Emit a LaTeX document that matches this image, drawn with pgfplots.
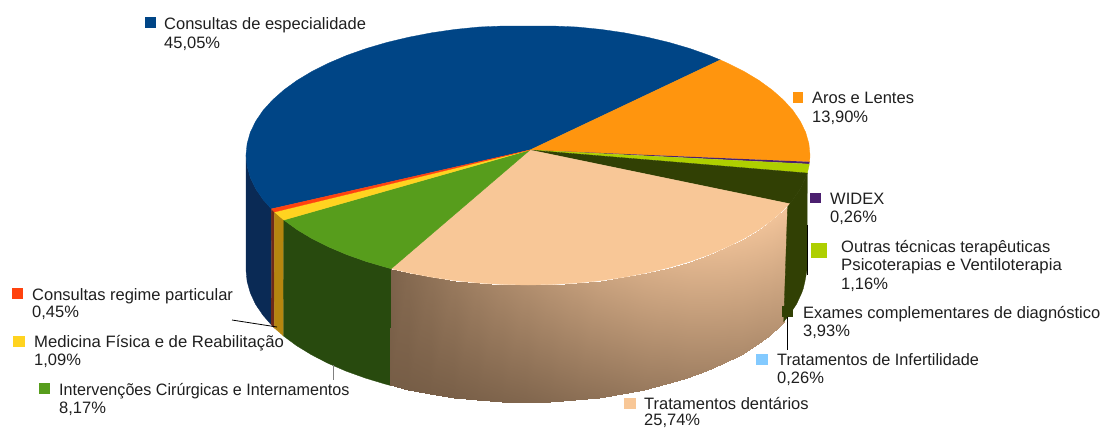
\documentclass[border=0pt]{standalone}
\usepackage{pgfplots}
\usepackage{fontspec}
\setmainfont{Liberation Sans}
\pgfplotsset{compat=1.18}
\definecolor{cblue}{HTML}{004586}
\definecolor{cred}{HTML}{FF420E}
\definecolor{cyellow}{HTML}{FFD320}
\definecolor{cgreen}{HTML}{579D1C}
\definecolor{ctan}{HTML}{F8C797}
\definecolor{cinf}{HTML}{83CAFF}
\definecolor{cexam}{HTML}{314004}
\definecolor{clime}{HTML}{AECF00}
\definecolor{cwidex}{HTML}{4B1F6F}
\definecolor{corange}{HTML}{FF950E}
\definecolor{sblue}{HTML}{0A2A55}
\definecolor{sred}{HTML}{6E2A18}
\definecolor{syellow}{HTML}{B5860F}
\definecolor{sgreen}{HTML}{284A0E}
\newcommand{\lab}[3]{\node[anchor=base west,inner sep=0pt,text=black!88,font=\fontsize{16.5}{18}\selectfont] at (axis cs:#1,#2) {#3};}
\pgfplotsset{face/.style={fill=#1,draw=#1,line width=0.3pt,no markers}}
\begin{document}
\begin{tikzpicture}
\useasboundingbox (0,0) rectangle (1102pt,429pt);
\begin{axis}[
  anchor=south west, at={(0,0)},
  scale only axis, width=1102pt, height=429pt,
  xmin=0, xmax=1102, ymin=0, ymax=429, y dir=reverse,
  hide axis, clip=false,
  colormap={tanside}{rgb255=(112,88,66) rgb255=(242,196,154)},
  point meta min=0, point meta max=1,
]
% sides of the pie
\addplot[face=sblue] coordinates {(246,155)(247.1,166.3)(250.3,177.6)(255.6,188.6)(263,199.5)(271.4,208.9)(271.2,324.7)(262.9,315.1)(255.5,304.2)(250.3,292.9)(247.1,281.5)(246,270)} -- cycle;
\addplot[face=sred] coordinates {(271.4,208.9)(274.5,212)(274.3,327.9)(271.2,324.7)} -- cycle;
\addplot[face=syellow] coordinates {(274.5,212)(283.8,220)(283.5,336)(274.3,327.9)} -- cycle;
\addplot[face=sgreen] coordinates {(283.8,220)(297,229.6)(312,238.6)(328.6,246.9)(346.7,254.6)(366.2,261.5)(387,267.6)(391.3,268.7)(390.3,385.4)(386,384.3)(365.4,378.1)(346,371.1)(328,363.3)(311.5,354.8)(296.6,345.7)(283.5,336)} -- cycle;
\addplot[surf, mesh/rows=2, shader=interp, point meta=\thisrow{c}] table {
x y c
391.3 268.7 0.10
408.8 272.8 0.17
431.6 277.2 0.24
455 280.6 0.31
479 283 0.38
503.4 284.5 0.44
528 285 0.50
552.6 284.5 0.56
577 283 0.62
601 280.6 0.68
624.4 277.2 0.73
647.2 272.8 0.78
669 267.6 0.82
689.8 261.5 0.86
709.3 254.6 0.89
727.4 246.9 0.92
744 238.6 0.94
759 229.6 0.96
772.2 220 0.98
783.6 209.9 0.99
787.6 205.8 1
390.3 385.4 0.05
407.7 389.6 0.05
430.2 394 0.06
453.5 397.5 0.07
477.4 400 0.09
501.6 401.5 0.11
526 402 0.13
550.4 401.5 0.16
574.6 400 0.20
598.5 397.5 0.23
621.8 394 0.27
644.3 389.6 0.31
666 384.3 0.34
686.6 378.1 0.38
706 371.1 0.41
724 363.3 0.44
740.5 354.8 0.47
755.4 345.7 0.49
768.5 336 0.52
779.8 325.8 0.55
783.7 321.6 0.56
};
\addplot[face=cexam] coordinates {(787.6,205.8)(789.5,203.7)(793,199.5)(800.4,188.6)(805.7,177.6)(807.3,173.1)(807,270)(804.9,281.5)(803.3,288.4)(801.7,292.9)(796.5,304.2)(789.1,315.1)(785.6,319.4)(783.7,321.6)} -- cycle;
% top face
\addplot[face=cblue] coordinates {(530,150)(271.4,208.9)(263,199.5)(255.6,188.6)(250.3,177.6)(247.1,166.3)(246,155)(247.1,143.7)(250.3,132.4)(255.6,121.4)(263,110.5)(272.4,100.1)(283.8,90)(297,80.4)(312,71.4)(328.6,63.1)(346.7,55.4)(366.2,48.5)(387,42.4)(408.8,37.2)(431.6,32.8)(455,29.4)(479,27)(503.4,26)(528,26)(552.6,26)(577,27)(601,29.4)(624.4,32.8)(647.2,37.2)(669,42.4)(689.8,48.5)(709.3,55.4)(720.3,59.9)} -- cycle;
\addplot[face=corange] coordinates {(530,150)(720.3,59.9)(727.4,63.1)(744,71.4)(759,80.4)(772.2,90)(783.6,100.1)(793,110.5)(800.4,121.4)(805.7,132.4)(808.9,143.7)(810,155)(809.6,161.8)} -- cycle;
\addplot[fill=cwidex,draw=none] coordinates {(530,150)(809.6,161.8)(809.3,164.1)} -- cycle;
\addplot[face=clime] coordinates {(530,150)(809.3,164.1)(808.9,166.3)(807.3,173.1)} -- cycle;
\addplot[face=cexam] coordinates {(530,150)(807.3,173.1)(805.7,177.6)(800.4,188.6)(793,199.5)(789.5,203.7)} -- cycle;
\addplot[face=ctan] coordinates {(530,150)(789.5,203.7)(787.6,205.8)(783.6,209.9)(772.2,220)(759,229.6)(744,238.6)(727.4,246.9)(709.3,254.6)(689.8,261.5)(669,267.6)(647.2,272.8)(624.4,277.2)(601,280.6)(577,283)(552.6,284.5)(528,285)(503.4,284.5)(479,283)(455,280.6)(431.6,277.2)(408.8,272.8)(391.3,268.7)} -- cycle;
\addplot[face=cgreen] coordinates {(530,150)(391.3,268.7)(387,267.6)(366.2,261.5)(346.7,254.6)(328.6,246.9)(312,238.6)(297,229.6)(283.8,220)} -- cycle;
\addplot[face=cyellow] coordinates {(530,150)(283.8,220)(274.5,212)} -- cycle;
\addplot[face=cred] coordinates {(530,150)(274.5,212)(271.4,208.9)} -- cycle;
% leader lines
\addplot[black, line width=0.8pt, no markers] coordinates {(807,225)(807,275)};
\addplot[black, line width=0.8pt, no markers] coordinates {(787,317)(787,350)};
\addplot[black, line width=0.8pt, no markers] coordinates {(232,320)(277,327)};
\addplot[gray, line width=1pt, no markers] coordinates {(333,365)(333,380)};
% legend keys
\addplot[fill=cblue,draw=none] coordinates {(145,17)(156,17)(156,28)(145,28)} -- cycle;
\addplot[fill=corange,draw=none] coordinates {(793,92)(803,92)(803,103)(793,103)} -- cycle;
\addplot[fill=cwidex,draw=none] coordinates {(810,193)(821,193)(821,203)(810,203)} -- cycle;
\addplot[fill=clime,draw=none] coordinates {(811,243)(827,243)(827,258)(811,258)} -- cycle;
\addplot[fill=cexam,draw=none] coordinates {(782,306)(793,306)(793,317)(782,317)} -- cycle;
\addplot[fill=cinf,draw=none] coordinates {(756,354)(768,354)(768,365)(756,365)} -- cycle;
\addplot[fill=ctan,draw=none] coordinates {(624,398)(636,398)(636,409)(624,409)} -- cycle;
\addplot[fill=cred,draw=none] coordinates {(12,288)(23,288)(23,299)(12,299)} -- cycle;
\addplot[fill=cyellow,draw=none] coordinates {(13,336)(25,336)(25,347)(13,347)} -- cycle;
\addplot[fill=cgreen,draw=none] coordinates {(39,383)(50,383)(50,394)(39,394)} -- cycle;
% labels
\lab{164}{29.5}{Consultas de especialidade}
\lab{164}{48}{45,05\%}
\lab{812}{103}{Aros e Lentes}
\lab{812}{122}{13,90\%}
\lab{830}{204}{WIDEX}
\lab{830}{222}{0,26\%}
\lab{841}{252}{Outras técnicas terapêuticas}
\lab{841}{270}{\scalebox{1.015}[1]{Psicoterapias e Ventiloterapia}}
\lab{841}{289}{1,16\%}
\lab{803}{318}{Exames complementares de diagnóstico}
\lab{803}{336}{3,93\%}
\lab{777}{365}{\scalebox{0.985}[1]{Tratamentos de Infertilidade}}
\lab{777}{383}{0,26\%}
\lab{644}{409}{Tratamentos dentários}
\lab{644}{425.5}{25,74\%}
\lab{32}{300}{Consultas regime particular}
\lab{32}{317}{0,45\%}
\lab{34}{347}{\scalebox{1.012}[1]{Medicina Física e de Reabilitação}}
\lab{34}{365}{1,09\%}
\lab{59}{395}{\scalebox{0.977}[1]{Intervenções Cirúrgicas e Internamentos}}
\lab{59}{413}{8,17\%}
\end{axis}
\end{tikzpicture}
\end{document}
